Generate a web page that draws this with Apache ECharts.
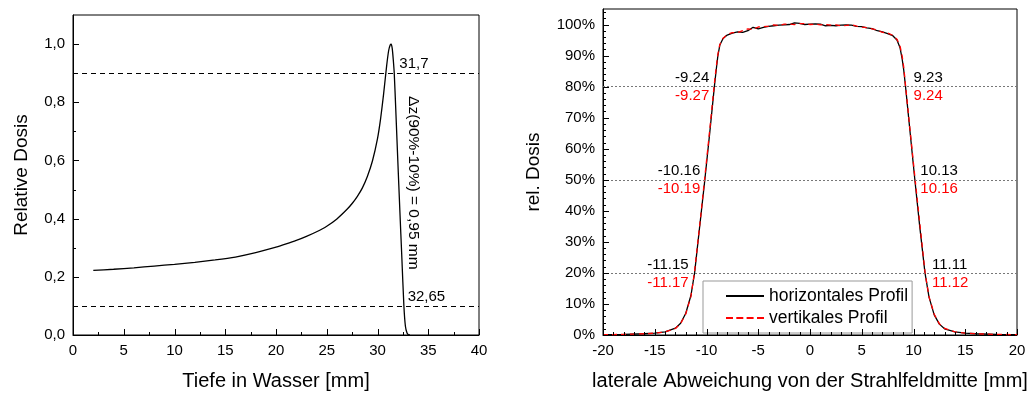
<!DOCTYPE html>
<html>
<head>
<meta charset="utf-8">
<script src="https://cdn.jsdelivr.net/npm/echarts@6/dist/echarts.min.js"></script>
<style>
html, body { margin: 0; padding: 0; background: #fff; }
#main { width: 1032px; height: 396px; }
</style>
</head>
<body>
<div id="main"></div>
<script>
// Tiefendosiskurve (links)
var depthX = [2, 4, 6, 8, 10, 12, 14, 16, 18, 20, 21, 22, 23, 24, 25, 26, 27, 27.5, 28, 28.5, 29, 29.5, 30, 30.3, 30.6, 30.9, 31.1, 31.25, 31.35, 31.45, 31.55, 31.65, 31.8, 32, 32.2, 32.4, 32.6, 32.75, 32.9, 33.05, 33.2];
var depthDose = [0.222, 0.226, 0.231, 0.237, 0.243, 0.250, 0.258, 0.268, 0.283, 0.302, 0.313, 0.325, 0.339, 0.355, 0.374, 0.399, 0.432, 0.452, 0.476, 0.505, 0.545, 0.598, 0.675, 0.742, 0.828, 0.925, 0.978, 0.997, 1.0, 0.985, 0.948, 0.900, 0.775, 0.600, 0.430, 0.265, 0.100, 0.030, 0.008, 0.001, 0.0];

// Querprofile (rechts)
var profHX = [-20, -18, -16, -15, -14, -13, -12.5, -12, -11.5, -11.15, -10.64, -10.16, -9.69, -9.24, -9.04, -8.9, -8.7, -8.4, -8.0,
  -7.5, -7, -6.5, -6, -5.5, -5, -4.5, -4, -3.5, -3, -2.5, -2, -1.5, -1, -0.5, 0, 0.5, 1, 1.5, 2, 2.5, 3, 3.5, 4, 4.5, 5, 5.5, 6, 6.5, 7, 7.5,
  8.0, 8.4, 8.7, 8.9, 9.05, 9.23, 9.68, 10.13, 10.6, 11.11, 11.5, 12, 12.5, 13, 14, 15, 16, 18, 20];
var profHY = [0.1, 0.2, 0.4, 0.6, 1.0, 2.2, 3.8, 7.0, 12.8, 20, 35.5, 50, 65, 80, 86, 90, 93.5, 95.5, 96.6,
  97.2, 97.6, 97.5, 98.0, 99.1, 98.6, 99.1, 99.4, 99.6, 99.8, 99.9, 100.0, 100.5, 100.4, 100.0, 100.1, 100.2, 100.1, 99.6, 99.7, 99.6, 99.8, 99.9, 99.8, 99.4, 99.3, 98.9, 98.7, 98.0, 97.6, 97.1,
  96.4, 95.0, 92.5, 89.0, 85.5, 80, 65, 50, 35, 20, 12.2, 6.5, 3.5, 2.0, 1.0, 0.6, 0.4, 0.2, 0.1];
var profVX = [-20, -18, -16, -15, -14, -13, -12.5, -12, -11.5, -11.17, -10.65, -10.19, -9.72, -9.27, -9.07, -8.92, -8.72, -8.42, -8.0,
  -7.5, -7, -6.5, -6, -5.5, -5, -4.5, -4, -3.5, -3, -2.5, -2, -1.5, -1, -0.5, 0, 0.5, 1, 1.5, 2, 2.5, 3, 3.5, 4, 4.5, 5, 5.5, 6, 6.5, 7, 7.5,
  8.0, 8.42, 8.72, 8.92, 9.07, 9.24, 9.7, 10.16, 10.64, 11.12, 11.5, 12, 12.5, 13, 14, 15, 16, 18, 20];
var profVY = [0.1, 0.2, 0.4, 0.6, 1.0, 2.1, 3.7, 6.8, 12.5, 20, 35.5, 50, 65, 80, 86, 90, 93.5, 95.5, 96.8,
  97.4, 97.4, 98.0, 98.6, 98.4, 99.2, 99.3, 99.5, 99.9, 99.7, 100.1, 100.2, 100.0, 100.3, 100.3, 100.0, 100.1, 99.9, 100.0, 99.8, 99.9, 99.6, 99.7, 99.9, 99.5, 99.2, 99.0, 98.6, 98.2, 97.5, 97.3,
  96.5, 95.2, 92.8, 89.5, 86, 80, 65, 50, 35, 20, 12.3, 6.7, 3.6, 2.1, 1.0, 0.6, 0.4, 0.2, 0.1];

var levels = [80, 50, 20];
var hLeftLabels = ['-9.24', '-10.16', '-11.15'];
var vLeftLabels = ['-9.27', '-10.19', '-11.17'];
var hRightLabels = ['9.23', '10.13', '11.11'];
var vRightLabels = ['9.24', '10.16', '11.12'];
var leftLabelX = [-9.73, -10.6, -11.73];
var rightLabelX = [10.01, 10.66, 11.79];

function pairs(xs, ys) {
  var out = [];
  for (var i = 0; i < xs.length; i++) out.push([xs[i], ys[i]]);
  return out;
}

var font = "'Liberation Sans', Arial, sans-serif";

function mainAxis(grid, min, max, interval, name, gap) {
  return {
    gridIndex: grid, type: 'value', min: min, max: max, interval: interval,
    name: name, nameLocation: 'middle', nameGap: gap,
    axisLine: { show: true, onZero: false, lineStyle: { color: '#000', width: 1 } },
    axisTick: { show: false },
    minorTick: { show: false },
    splitLine: { show: false },
    axisLabel: { color: '#000', fontSize: 15, fontFamily: font, margin: 8 },
    nameTextStyle: { color: '#000', fontSize: 20, fontFamily: font }
  };
}

// tick list: [value, kind]; kind 0 = x major, 1 = x minor, 2 = y major, 3 = y minor
function tickList(xMin, xMax, xStep, xSplit, yMin, yMax, yStep, ySplit) {
  var out = [], v, k;
  for (v = xMin; v <= xMax + 1e-9; v += xStep) {
    out.push([v, 0]);
    for (k = 1; k < xSplit; k++) if (v + k * xStep / xSplit < xMax) out.push([v + k * xStep / xSplit, 1]);
  }
  for (v = yMin; v <= yMax + 1e-9; v += yStep) {
    out.push([v, 2]);
    for (k = 1; k < ySplit; k++) if (v + k * yStep / ySplit < yMax - 1e-9) out.push([v + k * yStep / ySplit, 3]);
  }
  return out;
}

function tickSeries(gridIndex, ticks, xMin, yMin) {
  return {
    type: 'custom', xAxisIndex: gridIndex, yAxisIndex: gridIndex,
    silent: true, clip: false, z: 5,
    data: ticks,
    renderItem: function (params, api) {
      var v = api.value(0), kind = api.value(1);
      var cs = params.coordSys;
      var len = (kind === 0 || kind === 2) ? 6 : 3;
      var x1, y1, x2, y2;
      if (kind < 2) {
        x1 = x2 = Math.round(api.coord([v, yMin])[0]) + 0.5;
        y1 = cs.y + cs.height;
        y2 = y1 - len;
      } else {
        y1 = y2 = Math.round(api.coord([xMin, v])[1]) + 0.5;
        x1 = cs.x;
        x2 = x1 + len;
      }
      return {
        type: 'line',
        shape: { x1: x1, y1: y1, x2: x2, y2: y2 },
        style: { stroke: '#000', lineWidth: 1 }
      };
    }
  };
}

var chartDom = document.getElementById('main');
var myChart = echarts.init(chartDom);

var xLeft = mainAxis(0, 0, 40, 5, 'Tiefe in Wasser [mm]', 36);
var yLeft = mainAxis(0, 0, 1.1, 0.2, 'Relative Dosis', 42);
yLeft.nameTextStyle.fontSize = 19;
yLeft.axisLabel.showMaxLabel = false;
yLeft.axisLabel.formatter = function (v) { return v.toFixed(1).replace('.', ','); };

var xRight = mainAxis(1, -20, 20, 5, 'laterale Abweichung von der Strahlfeldmitte [mm]', 36);
var yRight = mainAxis(1, 0, 105, 10, 'rel. Dosis', 60);
yRight.nameTextStyle.fontSize = 19;
yRight.axisLabel.showMaxLabel = false;
yRight.axisLabel.formatter = function (v) { return v + '%'; };

function levelPoints(xs, texts, color, below) {
  var pts = [];
  for (var i = 0; i < levels.length; i++) {
    pts.push({
      coord: [xs[i], levels[i]],
      label: {
        formatter: texts[i], color: color,
        align: xs[i] < 0 ? 'right' : 'left',
        verticalAlign: below ? 'top' : 'bottom',
        offset: [0, below ? 2 : -1]
      }
    });
  }
  return pts;
}

var option = {
  animation: false,
  textStyle: { fontFamily: font },
  grid: [
    { left: 73, right: 553, top: 15, bottom: 54, show: true, backgroundColor: 'transparent', borderColor: '#000', borderWidth: 1 },
    { left: 603, right: 15, top: 9, bottom: 54, show: true, backgroundColor: 'transparent', borderColor: '#000', borderWidth: 1 }
  ],
  xAxis: [xLeft, xRight],
  yAxis: [yLeft, yRight],
  legend: {
    left: 703, top: 281,
    orient: 'vertical',
    itemWidth: 38, itemHeight: 2, itemGap: 4,
    padding: [6, 4, 6, 23],
    borderColor: '#999', borderWidth: 1,
    backgroundColor: '#fff',
    textStyle: { color: '#000', fontSize: 17.5, fontFamily: font },
    data: [
      { name: 'horizontales Profil', icon: 'path://M0,0h38v2h-38z' },
      { name: 'vertikales Profil', icon: 'path://M0,0h7v2h-7z M10.3,0h7v2h-7z M20.6,0h7v2h-7z M31,0h7v2h-7z' }
    ]
  },
  series: [
    {
      type: 'line', xAxisIndex: 0, yAxisIndex: 0,
      data: pairs(depthX, depthDose),
      symbol: 'none', smooth: 0.2,
      lineStyle: { color: '#000', width: 1.3 },
      markLine: {
        silent: true, symbol: 'none',
        lineStyle: { color: '#000', type: [5, 4], width: 1.2 },
        label: { show: false },
        data: [{ yAxis: 0.9 }, { yAxis: 0.1 }]
      },
      markPoint: {
        symbolSize: 0, silent: true,
        label: { show: true, color: '#000', fontSize: 15, fontFamily: font },
        data: [
          { coord: [32.15, 0.9], label: { formatter: '31,7', align: 'left', verticalAlign: 'bottom', offset: [0, -2] } },
          { coord: [32.97, 0.1], label: { formatter: '32,65', align: 'left', verticalAlign: 'bottom', offset: [0, -2] } },
          { coord: [33.56, 0.523], label: { formatter: '\u0394z(90%-10%) = 0,95 mm', rotate: -90, align: 'center', verticalAlign: 'middle', fontSize: 15.5 } }
        ]
      }
    },
    {
      name: 'horizontales Profil',
      type: 'line', xAxisIndex: 1, yAxisIndex: 1,
      data: pairs(profHX, profHY),
      symbol: 'none',
      itemStyle: { color: '#000' },
      lineStyle: { color: '#000', width: 1.3 },
      markLine: {
        silent: true, symbol: 'none',
        lineStyle: { color: '#777', type: [2, 2], width: 1 },
        label: { show: false },
        data: [{ yAxis: 80 }, { yAxis: 50 }, { yAxis: 20 }]
      },
      markPoint: {
        symbolSize: 0, silent: true,
        label: { show: true, fontSize: 15, fontFamily: font },
        data: levelPoints(leftLabelX, hLeftLabels, '#000', false)
          .concat(levelPoints(rightLabelX, hRightLabels, '#000', false))
      },
      z: 3
    },
    {
      name: 'vertikales Profil',
      type: 'line', xAxisIndex: 1, yAxisIndex: 1,
      data: pairs(profVX, profVY),
      symbol: 'none',
      itemStyle: { color: '#ff0000' },
      lineStyle: { color: '#ff0000', width: 1.3, type: [5, 4] },
      markPoint: {
        symbolSize: 0, silent: true,
        label: { show: true, fontSize: 15, fontFamily: font },
        data: levelPoints(leftLabelX, vLeftLabels, '#ff0000', true)
          .concat(levelPoints(rightLabelX, vRightLabels, '#ff0000', true))
      },
      z: 4
    },
    tickSeries(0, tickList(0, 40, 5, 2, 0, 1.1, 0.2, 2), 0, 0),
    tickSeries(1, tickList(-20, 20, 5, 5, 0, 105, 10, 5), -20, 0)
  ]
};

option && myChart.setOption(option);
</script>
</body>
</html>
